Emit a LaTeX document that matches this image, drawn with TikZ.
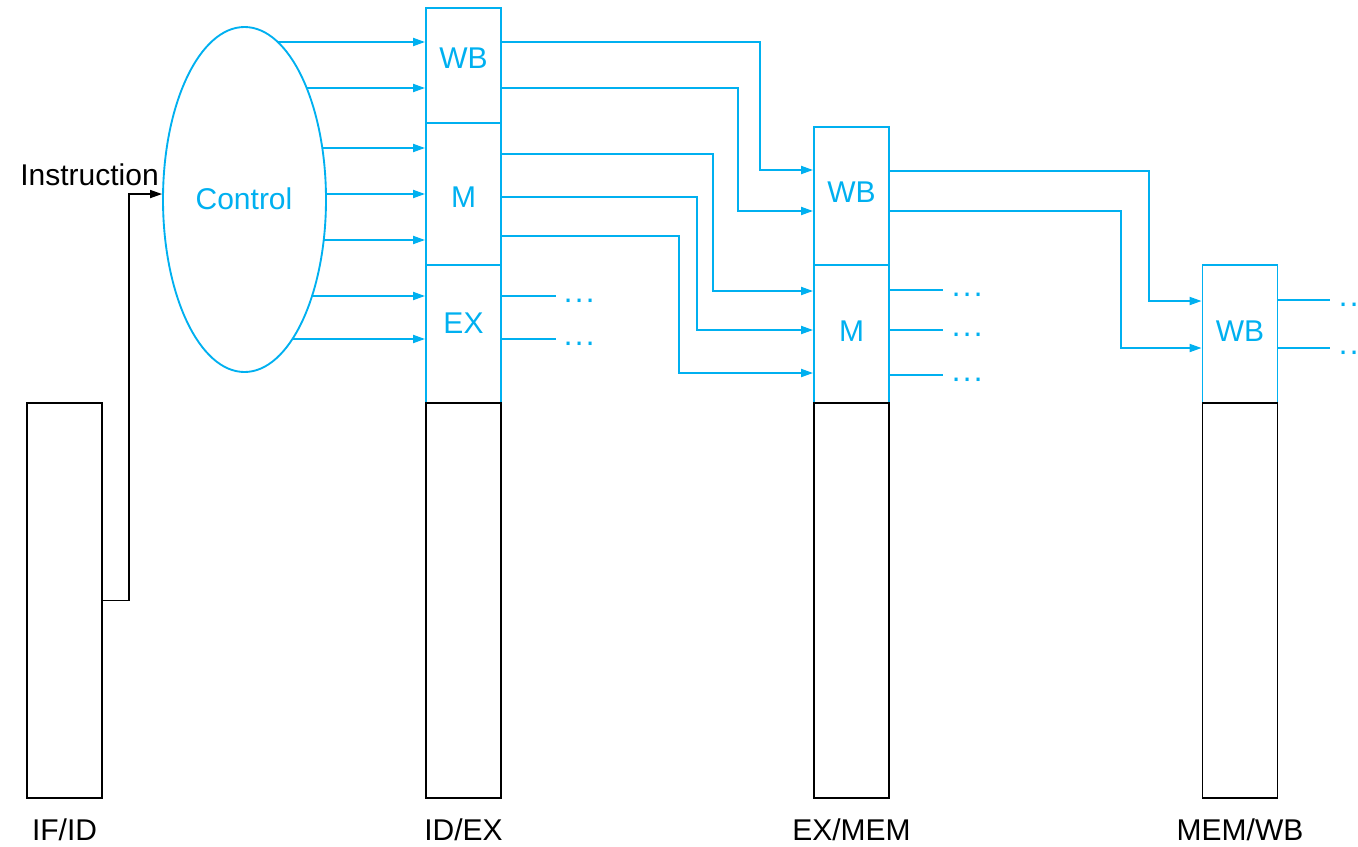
\documentclass[tikz,border=0pt]{standalone}
\usepackage{fontspec}
\setmainfont{Liberation Sans}
\usetikzlibrary{arrows.meta,shapes.geometric,backgrounds}
\definecolor{cblue}{RGB}{0,176,240}
\newcommand{\mydots}{\makebox[8.25pt]{·}\makebox[8.25pt]{·}\makebox[8.25pt]{·}}
\begin{document}
\begin{tikzpicture}[x=0.75pt,y=-0.75pt,
  bl/.style={draw=cblue,line width=1.4pt},
  bk/.style={draw=black,line width=1.2pt},
  reg/.style={rectangle,inner sep=0pt,minimum width=75*0.75pt},
  lbl/.style={font=\fontsize{22.5}{27}\selectfont,anchor=base,inner sep=0pt},
  blbl/.style={lbl,text=cblue},
  arr/.style={bl,-{Triangle[length=9pt,width=6pt]}},
  barr/.style={bk,-{Triangle[length=9pt,width=6pt]}},
  dotsn/.style={anchor=base west,inner sep=0pt,text=cblue,font=\fontsize{24}{26}\selectfont}]
\useasboundingbox (0,0) rectangle (1358,846);
\clip (0,0) rectangle (1358,846);

% ID/EX
\node[reg,bl,minimum height=115*0.75pt] (idexwb) at (463.5,65.5) {};
\node[reg,bl,minimum height=142*0.75pt] (idexm) at (463.5,194) {};
\node[reg,bl,minimum height=138*0.75pt] (idexex) at (463.5,334) {};
\node[reg,bk,minimum height=395*0.75pt] (idex) at (463.5,600.5) {};
% EX/MEM
\node[reg,bl,minimum height=138*0.75pt] (exmemwb) at (851.5,196) {};
\node[reg,bl,minimum height=138*0.75pt] (exmemm) at (851.5,334) {};
\node[reg,bk,minimum height=395*0.75pt] (exmem) at (851.5,600.5) {};
% MEM/WB
\node[reg,bl,minimum height=138*0.75pt] (memwbwb) at (1240,334) {};
\node[reg,bk,minimum height=395*0.75pt] (memwb) at (1240,600.5) {};
% IF/ID
\node[reg,bk,minimum height=395*0.75pt] (ifid) at (64.5,600.5) {};

% Control
\node[ellipse,bl,fill=white,inner sep=0pt,minimum width=163*0.75pt,minimum height=345*0.75pt] (ctrl) at (244.5,199.5) {};
\node[blbl] (ctrltxt) at (244,209) {Control};

% labels
\node[blbl] (l1) at (463.5,68) {WB};
\node[blbl] (l2) at (463.5,207) {M};
\node[blbl] (l3) at (463.5,333) {EX};
\node[blbl] (l4) at (851.5,202) {WB};
\node[blbl] (l5) at (851.5,341) {M};
\node[blbl] (l6) at (1240,341) {WB};
\node[lbl] (instr) at (89.5,185) {Instruction};
\node[lbl] (n1) at (64.5,840) {IF/ID};
\node[lbl] (n2) at (463.5,840) {ID/EX};
\node[lbl] (n3) at (851.5,840) {EX/MEM};
\node[lbl] (n4) at (1240,840) {MEM/WB};

% control outputs
\begin{scope}[on background layer]
  \foreach \y in {42,88} \draw[arr] (ctrl.center |- 0,\y) -- (idexwb.west |- 0,\y);
  \foreach \y in {148,194,240} \draw[arr] (ctrl.center |- 0,\y) -- (idexm.west |- 0,\y);
  \foreach \y in {296,339} \draw[arr] (ctrl.center |- 0,\y) -- (idexex.west |- 0,\y);
\end{scope}

% instruction wire
\draw[barr] (ifid.east) -- ++(26,0) |- ([yshift=4.1pt]ctrl.west);

% ID/EX -> EX/MEM
\draw[arr] (idexwb.east |- 0,42) -| (760,170) -- (exmemwb.west |- 0,170);
\draw[arr] (idexwb.east |- 0,88) -| (738,211) -- (exmemwb.west |- 0,211);
\draw[arr] (idexm.east |- 0,154) -| (713,291) -- (exmemm.west |- 0,291);
\draw[arr] (idexm.east |- 0,197) -| (697,330) -- (exmemm.west |- 0,330);
\draw[arr] (idexm.east |- 0,236) -| (679,373) -- (exmemm.west |- 0,373);
% EX/MEM -> MEM/WB
\draw[arr] (exmemwb.east |- 0,171) -| (1149,301) -- (memwbwb.west |- 0,301);
\draw[arr] (exmemwb.east |- 0,211) -| (1121,348) -- (memwbwb.west |- 0,348);

% open outputs
\foreach \y/\n in {296/a,339/b} {
  \draw[bl] (idexex.east |- 0,\y) -- (556,\y) coordinate (exo\n);
  \node[dotsn] (exd\n) at (562.5,\y+13) {\mydots};
}
\foreach \y/\n in {290/a,330/b,375/c} {
  \draw[bl] (exmemm.east |- 0,\y) -- (943,\y) coordinate (mo\n);
  \node[dotsn] (md\n) at (950.5,\y+13) {\mydots};
}
\foreach \y/\n in {300/a,348/b} {
  \draw[bl] (memwbwb.east |- 0,\y) -- (1330,\y) coordinate (wo\n);
  \node[dotsn] (wd\n) at (1337.5,\y+13) {\mydots};
}
\end{tikzpicture}
\end{document}
